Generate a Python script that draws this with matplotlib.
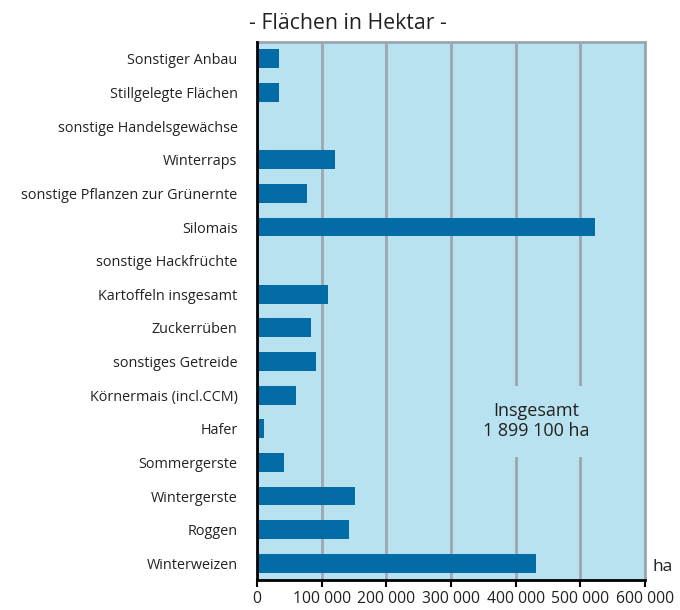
import numpy as np
import matplotlib.pyplot as plt
from matplotlib.ticker import FuncFormatter

plt.rcParams['font.family'] = ['Open Sans', 'DejaVu Sans']

kategorien = ["Sonstiger Anbau", "Stillgelegte Flächen", "sonstige Handelsgewächse",
              "Winterraps", "sonstige Pflanzen zur Grünernte", "Silomais",
              "sonstige Hackfrüchte", "Kartoffeln insgesamt", "Zuckerrüben",
              "sonstiges Getreide", "Körnermais (incl.CCM)", "Hafer",
              "Sommergerste", "Wintergerste", "Roggen", "Winterweizen"]
flaechen = [34000, 34000, 2000, 121000, 77000, 523000, 500, 110000, 84000,
            91000, 61000, 10000, 41000, 152000, 142000, 432000]
xticks = [0, 100000, 200000, 300000, 400000, 500000, 600000]

blau = '#036ca6'
hg = '#b8e2ef'
grau = '#9ba6b2'
txt = '#222222'

fig = plt.figure(figsize=(6.8, 6.1), dpi=100)
ax = fig.add_axes([0.378, 0.049, 0.5706, 0.882])
ax.set_facecolor(hg)

y = np.arange(len(kategorien))
ax.barh(y, flaechen, height=0.56, color=blau, zorder=3)

ax.set_xlim(0, 600000)
ax.set_ylim(15.5, -0.5)
ax.set_xticks(xticks)
ax.xaxis.set_major_formatter(FuncFormatter(lambda v, p: f"{int(v):,}".replace(",", " ")))
ax.set_yticks(y)
ax.set_yticklabels(kategorien)
ax.tick_params(axis='y', length=0, pad=14, labelsize=10.4, labelcolor=txt)
ax.tick_params(axis='x', length=5, width=1.5, direction='out', labelsize=11.3,
               labelcolor=txt, color='black', pad=3)

ax.grid(axis='x', color=grau, linewidth=2, zorder=1)
ax.set_axisbelow(True)
for s in ['top', 'right']:
    ax.spines[s].set_color(grau)
    ax.spines[s].set_linewidth(2)
ax.spines['left'].set_color('black')
ax.spines['left'].set_linewidth(2)
ax.spines['bottom'].set_color('black')
ax.spines['bottom'].set_linewidth(2)
ax.spines['left'].set_zorder(4)

ax.text(432000, 10.78, "Insgesamt\n1 899 100 ha", ha='center', va='center',
        fontsize=13, color=txt, linespacing=1.15, zorder=2,
        bbox=dict(boxstyle='square,pad=0.9', facecolor=hg, edgecolor='none'))

ax.text(1.02, 0.01, "ha", transform=ax.transAxes, fontsize=12.5, color=txt,
        ha='left', va='bottom')
fig.text(0.511, 0.962, "- Flächen in Hektar -", fontsize=15.3, color=txt,
         ha='center', va='center')

fig.savefig("out.png", dpi=100)
